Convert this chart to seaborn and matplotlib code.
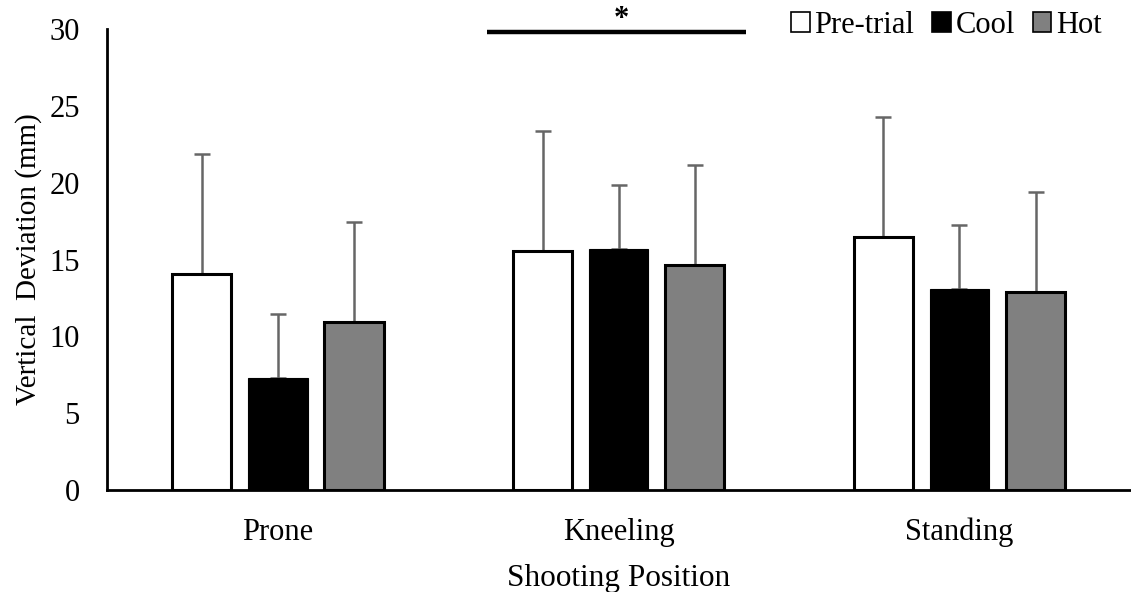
import matplotlib
matplotlib.use("Agg")
import matplotlib.pyplot as plt
import seaborn as sns
import pandas as pd
from matplotlib.patches import Patch

positions = ["Prone", "Kneeling", "Standing"]
conditions = ["Pre-trial", "Cool", "Hot"]
means = {
    "Pre-trial": [14.05, 15.57, 16.44],
    "Cool": [7.31, 15.70, 13.08],
    "Hot": [10.93, 14.68, 12.90],
}
sds = {
    "Pre-trial": [7.85, 7.81, 7.81],
    "Cool": [4.16, 4.12, 4.14],
    "Hot": [6.49, 6.49, 6.51],
}
colors = {"Pre-trial": "white", "Cool": "black", "Hot": "#808080"}

rows = []
for c in conditions:
    for p, m, s in zip(positions, means[c], sds[c]):
        rows.append({"position": p, "condition": c, "mean": m, "sd": s})
df = pd.DataFrame(rows)

sns.set_style("white")
plt.rcParams["font.family"] = ["Liberation Serif", "DejaVu Serif"]
plt.rcParams["text.color"] = "black"
plt.rcParams["axes.labelcolor"] = "black"
plt.rcParams["xtick.color"] = "black"
plt.rcParams["ytick.color"] = "black"

FS = 22

fig, ax = plt.subplots(figsize=(11.31, 5.92), dpi=100)
sns.barplot(data=df, x="position", y="mean", hue="condition",
            order=positions, hue_order=conditions, palette=colors,
            width=0.67, gap=0.22, errorbar=None, legend=False, ax=ax)

# outline bars, add upward-only SD whiskers (lower cap hidden under bar)
for bars, c in zip(ax.containers, conditions):
    for bar, s in zip(bars, sds[c]):
        bar.set_edgecolor("black")
        bar.set_linewidth(0.8 if c == "Cool" else 2.2)
        bar.set_zorder(2)
        x = bar.get_x() + bar.get_width() / 2
        h = bar.get_height()
        ax.errorbar(x, h, yerr=[[0], [s]], color="#666666", capsize=6,
                    elinewidth=1.8, capthick=1.8, zorder=1)

# significance bracket over kneeling
ax.plot([0.614, 1.374], [29.78, 29.78], color="black", lw=3.2,
        clip_on=False, solid_capstyle="butt")
ax.text(1.009, 30.15, "*", ha="center", va="baseline", fontsize=22,
        fontweight="bold", clip_on=False)

ax.set_ylim(0, 30)
ax.set_xlim(-0.5, 2.5)
ax.set_yticks(range(0, 31, 5))
ax.tick_params(axis="both", labelsize=FS, length=0)
ax.tick_params(axis="x", pad=20)
ax.tick_params(axis="y", pad=20)
ax.set_ylabel("Vertical  Deviation (mm)", fontsize=21, labelpad=5)
ax.set_xlabel("Shooting Position", fontsize=22.5, labelpad=12)
sns.despine(ax=ax)
for sp in ["left", "bottom"]:
    ax.spines[sp].set_color("black")
    ax.spines[sp].set_linewidth(2)

handles = [Patch(facecolor=colors[c], edgecolor="black", linewidth=1.2, label=c)
           for c in conditions]
fig.legend(handles=handles, loc="center right", bbox_to_anchor=(0.974, 0.957),
           ncol=3, frameon=False, fontsize=FS, handlelength=0.6,
           handleheight=0.6, handletextpad=0.15, columnspacing=0.6,
           borderpad=0, borderaxespad=0)

fig.subplots_adjust(left=0.095, right=0.999, top=0.951, bottom=0.172)
fig.savefig("out.png", dpi=100)
